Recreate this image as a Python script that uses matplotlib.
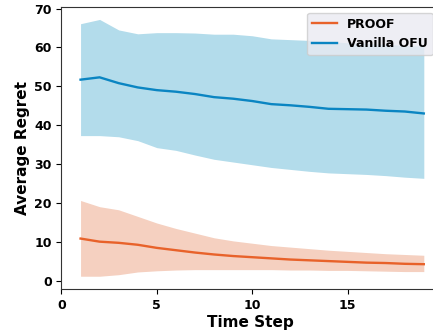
import matplotlib.pyplot as plt

steps = list(range(1, 20))

proof_mean = [10.8, 10.0, 9.7, 9.2, 8.4, 7.8, 7.2, 6.7, 6.3, 6.0,
              5.7, 5.4, 5.2, 5.0, 4.8, 4.6, 4.5, 4.3, 4.2]
proof_upper = [20.6, 19.0, 18.2, 16.5, 14.8, 13.4, 12.2, 11.0, 10.2, 9.6,
               9.0, 8.6, 8.2, 7.8, 7.5, 7.2, 6.9, 6.7, 6.5]
proof_lower = [1.1, 1.1, 1.5, 2.2, 2.5, 2.7, 2.8, 2.8, 2.8, 2.8,
               2.8, 2.7, 2.7, 2.6, 2.6, 2.5, 2.4, 2.3, 2.3]

ofu_mean = [51.7, 52.3, 50.8, 49.7, 49.0, 48.6, 48.0, 47.2, 46.8, 46.2,
            45.4, 45.1, 44.7, 44.2, 44.1, 44.0, 43.7, 43.5, 43.0]
ofu_upper = [66.1, 67.2, 64.5, 63.5, 63.8, 63.8, 63.7, 63.4, 63.4, 63.0,
             62.2, 62.0, 61.8, 61.5, 61.2, 61.0, 60.8, 60.5, 60.3]
ofu_lower = [37.3, 37.3, 37.0, 36.0, 34.2, 33.5, 32.3, 31.2, 30.5, 29.8,
             29.1, 28.6, 28.1, 27.7, 27.5, 27.3, 27.0, 26.6, 26.3]

fig = plt.figure(figsize=(4.33, 3.30), dpi=100)
ax = fig.add_axes([0.142, 0.124, 0.872, 0.856])

ax.fill_between(steps, proof_lower, proof_upper, color="#F5D0C0", linewidth=0)
ax.fill_between(steps, ofu_lower, ofu_upper, color="#B3DCEB", linewidth=0)
ax.plot(steps, proof_mean, color="#E8622A", lw=1.7, label="PROOF")
ax.plot(steps, ofu_mean, color="#0A85C2", lw=1.7, label="Vanilla OFU")

ax.set_xlim(0, 19.8)
ax.set_xticks([0, 5, 10, 15])
ax.set_yticks(range(0, 71, 10))
for lab in ax.get_xticklabels() + ax.get_yticklabels():
    lab.set_fontweight("bold")
ax.tick_params(labelsize=9)
ax.set_xlabel("Time Step", fontsize=11, fontweight="bold", labelpad=2)
ax.set_ylabel("Average Regret", fontsize=11, fontweight="bold", labelpad=3)
for s in ax.spines.values():
    s.set_color("#333333")

leg = ax.legend(loc="upper right", prop={"weight": "bold", "size": 9},
                facecolor="#EAEAF2", edgecolor="#CCCCCC", framealpha=0.8)

fig.savefig("out.png", dpi=100)
